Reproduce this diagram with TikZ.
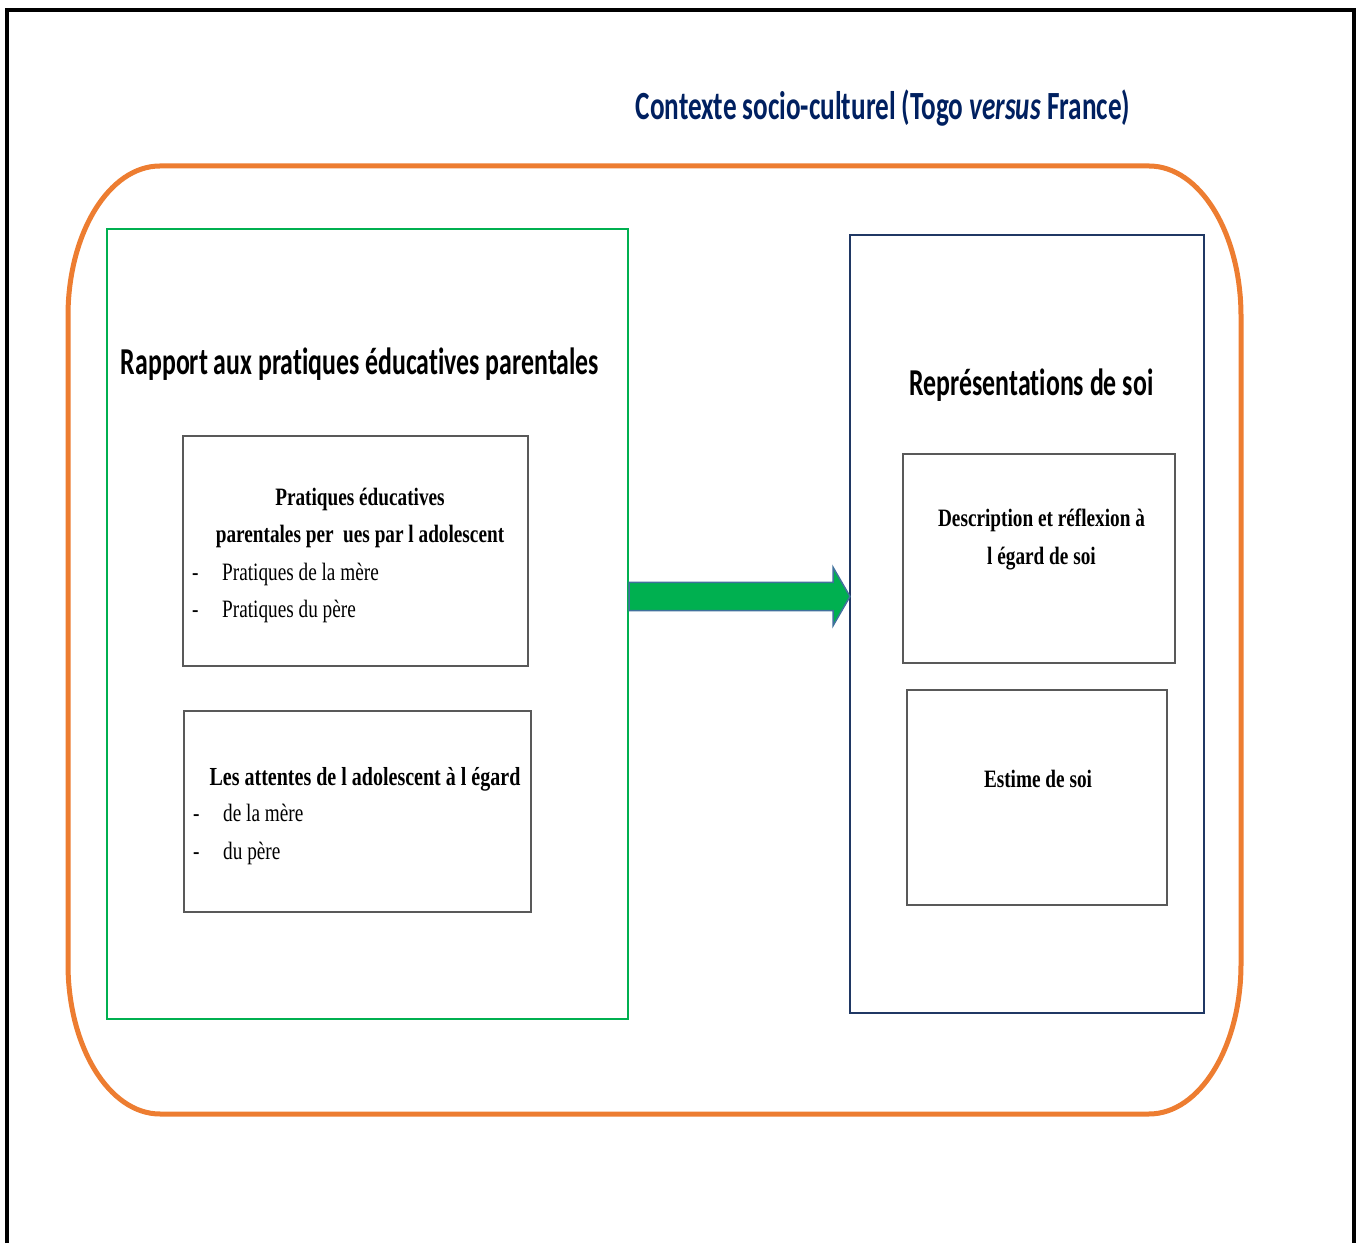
\documentclass[tikz,border=0pt]{standalone}
\usepackage{fontspec}
\usetikzlibrary{calc}
\newfontfamily\calfont[FakeStretch=0.68,Ligatures=NoCommon]{Carlito}
\newfontfamily\tnrfont[FakeStretch=0.77]{Liberation Serif}
\definecolor{ctxorange}{HTML}{ED7D31}
\definecolor{grpgreen}{HTML}{00B050}
\definecolor{repnavy}{HTML}{203864}
\definecolor{ttlnavy}{HTML}{002060}
\definecolor{boxgray}{HTML}{595959}
\definecolor{arrblue}{HTML}{41719C}
\begin{document}
\begin{tikzpicture}[x=1pt,y=1pt,
    headtxt/.style={font=\calfont\bfseries\fontsize{38}{40}\selectfont, inner sep=0pt},
    boxtxt/.style={font=\tnrfont\fontsize{25}{37.5}\selectfont, inner sep=0pt},
    boxbold/.style={font=\tnrfont\bfseries\fontsize{25}{37.5}\selectfont, inner sep=0pt},
    inbox/.style={draw=boxgray, line width=1.8pt, inner sep=0pt},
    ctxline/.style={draw=ctxorange, line width=5pt},
    bigarrow/.style={fill=grpgreen, draw=arrblue, line width=1.5pt, line join=miter}]
    \useasboundingbox (0,0) rectangle (1363,1243);
    % page frame, open at the bottom
    \draw [line width=4pt] (6.5,0) -- (6.5,1233) -- (1353.5,1233) -- (1353.5,0);
    % socio-cultural context
    \draw [ctxline] (160,1077) -- (1149,1077)
        arc [start angle=90, end angle=0, x radius=92, y radius=150] -- (1241,279)
        arc [start angle=0, end angle=-90, x radius=92, y radius=150] -- (160,129)
        arc [start angle=270, end angle=180, x radius=92, y radius=150] -- (68,927)
        arc [start angle=180, end angle=90, x radius=92, y radius=150] -- cycle;
    \node [headtxt, font=\calfont\bfseries\fontsize{40}{42}\selectfont, text=ttlnavy] (ttl) at (883,1135)
        {Contexte socio-culturel (Togo \textit{versus} France)};

    % left group
    \node [draw=grpgreen, line width=2pt, minimum width=521.5pt, minimum height=790pt] (grp) at (367.25,619) {};
    \node [headtxt] (grpttl) at (360,879) {Rapport aux pratiques éducatives parentales};
    \node [inbox, minimum width=345pt, minimum height=230pt] (prat) at (355.5,692) {};
    \node [boxbold, align=center] (pratT) at (360,725)
        {Pratiques éducatives\\parentales per\ \ ues par l adolescent};
    \node [boxtxt, align=left, anchor=west] (pratL) at (192,650)
        {\makebox[30pt][l]{-}Pratiques de la mère\\\makebox[30pt][l]{-}Pratiques du père};
    \node [inbox, minimum width=347pt, minimum height=201pt] (att) at (357.5,431.5) {};
    \node [boxbold, font=\tnrfont\bfseries\fontsize{26}{37.5}\selectfont] (attT) at (365,464)
        {Les attentes de l adolescent à l égard};
    \node [boxtxt, align=left, anchor=west] (attL) at (193,408.5)
        {\makebox[30pt][l]{-}de la mère\\\makebox[30pt][l]{-}du père};

    % right group
    \node [draw=repnavy, line width=2pt, minimum width=354.5pt, minimum height=778pt] (rep) at (1026.75,619) {};
    \node [headtxt] (repttl) at (1031.5,858) {Représentations de soi};
    \node [inbox, minimum width=272pt, minimum height=209pt] (desc) at (1039,684.5) {};
    \node [boxbold, align=center] (descT) at (1041.5,703.5)
        {Description et réflexion à\\l égard de soi};
    \node [inbox, minimum width=260pt, minimum height=215pt] (est) at (1037,445.5) {};
    \node [boxbold] (estT) at (1038,464) {Estime de soi};

    % block arrow from one group to the other
    \coordinate (arrS) at (grp.east |- 0,646.5);
    \coordinate (arrE) at ([xshift=1.5pt]rep.west |- 0,646.5);
    \draw [bigarrow] ($(arrS)+(0,14.2)$) -- ($(arrE)+(-17,14.2)$) -- ($(arrE)+(-17,29.3)$)
        -- (arrE) -- ($(arrE)+(-17,-29.3)$) -- ($(arrE)+(-17,-14.2)$) -- ($(arrS)+(0,-14.2)$) -- cycle;
\end{tikzpicture}
\end{document}
